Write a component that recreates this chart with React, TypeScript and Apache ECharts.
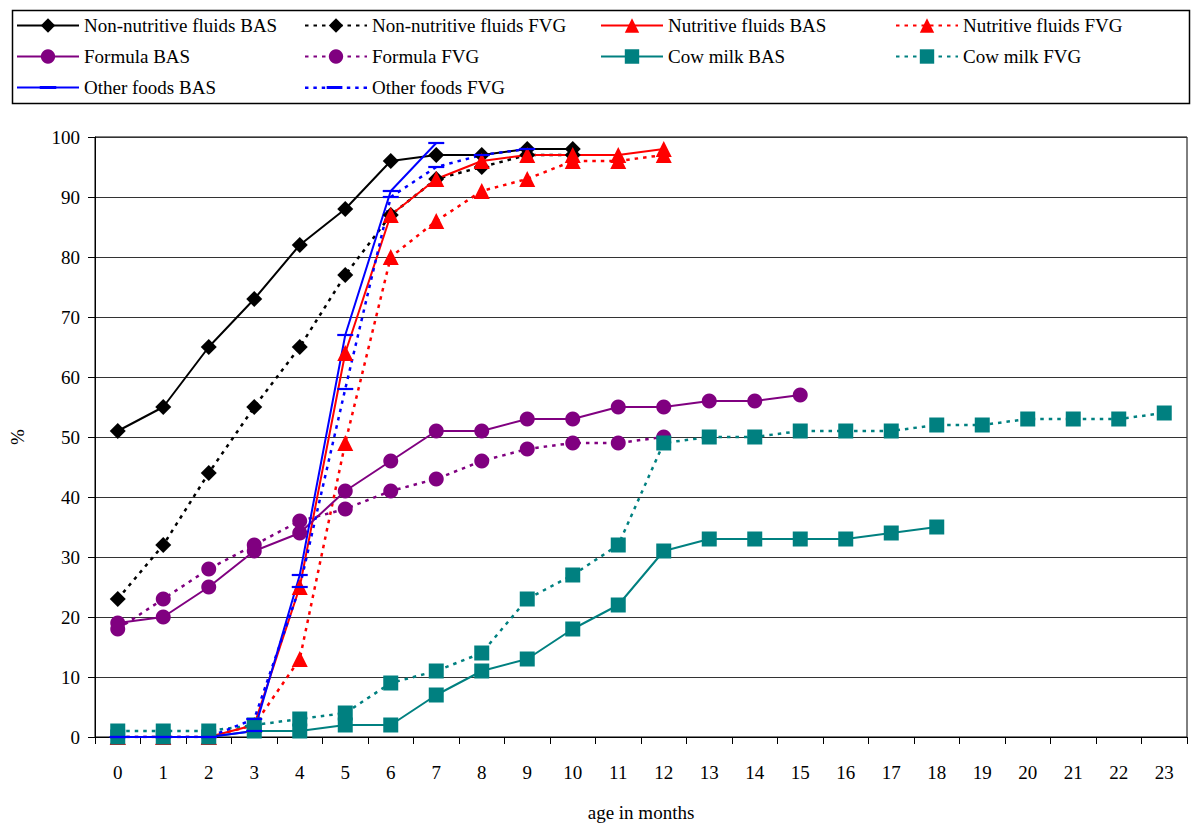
import React, { useEffect, useRef } from "react";
import * as echarts from "echarts";

const months = ["0","1","2","3","4","5","6","7","8","9","10","11","12","13","14","15","16","17","18","19","20","21","22","23"];
const yTicks = [0, 10, 20, 30, 40, 50, 60, 70, 80, 90, 100];

const nonNutBAS = [51, 55, 65, 73, 82, 88, 96, 97, 97, 98, 98];
const nonNutFVG = [23, 32, 44, 55, 65, 77, 87, 93, 95, 97, 97];
const nutBAS = [0, 0, 0, 2, 25, 64, 87, 93, 96, 97, 97, 97, 98];
const nutFVG = [0, 0, 0, 2, 13, 49, 80, 86, 91, 93, 96, 96, 97];
const formulaBAS = [19, 20, 25, 31, 34, 41, 46, 51, 51, 53, 53, 55, 55, 56, 56, 57];
const formulaFVG = [18, 23, 28, 32, 36, 38, 41, 43, 46, 48, 49, 49, 50];
const cowBAS = [0, 0, 0, 1, 1, 2, 2, 7, 11, 13, 18, 22, 31, 33, 33, 33, 33, 34, 35];
const cowFVG = [1, 1, 1, 2, 3, 4, 9, 11, 14, 23, 27, 32, 49, 50, 50, 51, 51, 51, 52, 52, 53, 53, 53, 54];
const otherBAS = [0, 0, 0, 1, 27, 67, 91, 99];
const otherFVG = [0, 0, 0, 3, 25, 58, 90, 95, 97, 98];

const FONT = "Liberation Serif";
const FS = 19;
const DOT: number[] = [3.5, 5];

// legend icons for the "Other foods" series: line + short thick dash in the middle
const solidDashIcon = "path://M0,0.5H60V2.5H0Z M22,0H38V3H22Z";
function dottedDashIcon() {
  let d = "";
  for (let x = 0; x < 60; x += 8.5) {
    d += `M${x},0.5H${x + 3.5}V3H${x}Z `;
  }
  d += "M22,0H38V3H22Z";
  return "path://" + d;
}

export default function App() {
  const ref = useRef<HTMLDivElement>(null);
  useEffect(() => {
    if (!ref.current) return;
    const chart = echarts.init(ref.current, undefined, { renderer: "svg" });
    const mk = (
      name: string,
      data: number[],
      color: string,
      dashed: boolean,
      symbol: string,
      symbolSize: any
    ) => ({
      name,
      type: "line",
      data,
      symbol,
      symbolSize,
      showSymbol: true,
      showAllSymbol: true,
      lineStyle: { color, width: dashed ? 2.5 : 2, type: dashed ? DOT : "solid" },
      itemStyle: { color, borderWidth: 0 },
      emphasis: { disabled: true },
    });
    const dash = "path://M0,0H16V2.2H0Z";
    const series = [
      mk("Non-nutritive fluids BAS", nonNutBAS, "#000000", false, "diamond", 16),
      mk("Non-nutritive fluids FVG", nonNutFVG, "#000000", true, "diamond", 16),
      mk("Nutritive fluids BAS", nutBAS, "#ff0000", false, "triangle", 16),
      mk("Nutritive fluids FVG", nutFVG, "#ff0000", true, "triangle", 16),
      mk("Formula BAS", formulaBAS, "#800080", false, "circle", 15),
      mk("Formula FVG", formulaFVG, "#800080", true, "circle", 15),
      mk("Cow milk BAS", cowBAS, "#008080", false, "rect", 15),
      mk("Cow milk FVG", cowFVG, "#008080", true, "rect", 15),
      mk("Other foods BAS", otherBAS, "#0000ff", false, dash, [16, 2.2]),
      mk("Other foods FVG", otherFVG, "#0000ff", true, dash, [16, 2.2]),
    ];
    const legendBase = {
      orient: "vertical",
      itemWidth: 62,
      itemHeight: 18,
      itemGap: 12,
      selectedMode: false,
      textStyle: { fontFamily: FONT, fontSize: FS, color: "#000" },
      padding: 0,
    };
    chart.setOption({
      animation: false,
      backgroundColor: "#fff",
      textStyle: { fontFamily: FONT },
      legend: [
        { ...legendBase, left: 16, top: 16, data: ["Non-nutritive fluids BAS", "Formula BAS", { name: "Other foods BAS", icon: solidDashIcon }] },
        { ...legendBase, left: 304, top: 16, data: ["Non-nutritive fluids FVG", "Formula FVG", { name: "Other foods FVG", icon: dottedDashIcon() }] },
        { ...legendBase, left: 600, top: 16, data: ["Nutritive fluids BAS", "Cow milk BAS"] },
        { ...legendBase, left: 895, top: 16, data: ["Nutritive fluids FVG", "Cow milk FVG"] },
      ],
      graphic: [
        {
          type: "rect",
          left: 10,
          top: 8,
          shape: { width: 1177, height: 93 },
          style: { fill: "none", stroke: "#000", lineWidth: 1.5 },
          silent: true,
        },
      ],
      grid: {
        left: 89,
        right: 13,
        top: 137,
        bottom: 101,
        show: true,
        borderColor: "#000",
        borderWidth: 1,
        backgroundColor: "transparent",
      },
      xAxis: {
        type: "category",
        data: months,
        boundaryGap: true,
        name: "age in months",
        nameLocation: "middle",
        nameGap: 66,
        nameTextStyle: { fontFamily: FONT, fontSize: FS, color: "#000" },
        axisLine: { lineStyle: { color: "#000", width: 1 } },
        axisTick: { show: true, inside: false, length: 7, alignWithLabel: false, lineStyle: { color: "#000" } },
        axisLabel: { fontFamily: FONT, fontSize: FS, color: "#000", margin: 26, interval: 0 },
        splitLine: { show: false },
      },
      yAxis: {
        type: "value",
        min: 0,
        max: 100,
        interval: 10,
        name: "%",
        nameLocation: "middle",
        nameGap: 68,
        nameRotate: 90,
        nameTextStyle: { fontFamily: FONT, fontSize: FS, color: "#000" },
        axisLine: { show: true, lineStyle: { color: "#000", width: 1 } },
        axisTick: { show: true, inside: false, length: 7, lineStyle: { color: "#000" } },
        axisLabel: {
          fontFamily: FONT,
          fontSize: FS,
          color: "#000",
          margin: 15,
          formatter: (v: number) => (yTicks.includes(v) ? String(v) : ""),
        },
        splitLine: { show: true, lineStyle: { color: "#333", width: 1.2 } },
      },
      series,
    });
    return () => chart.dispose();
  }, []);
  return <div ref={ref} style={{ width: 1200, height: 838, position: "absolute", left: 0, top: 0 }} />;
}
